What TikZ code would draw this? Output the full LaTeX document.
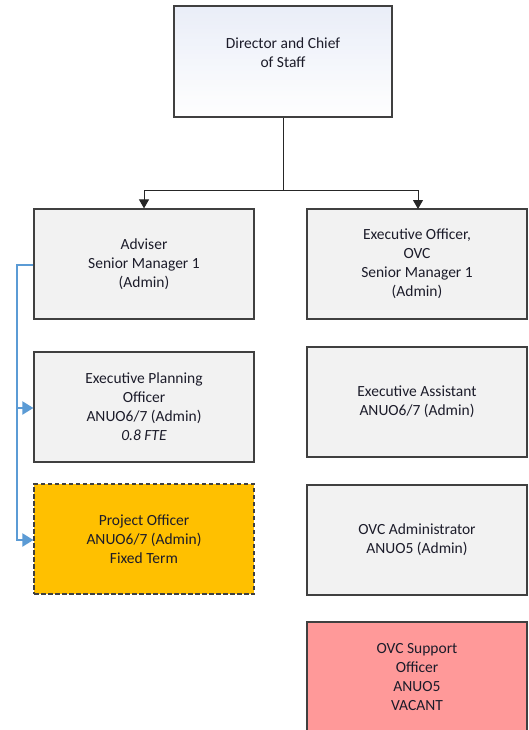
\documentclass[tikz,border=0pt]{standalone}
\usepackage{fontspec}
\setmainfont{Carlito}
\usetikzlibrary{arrows.meta,shadings}
\definecolor{boxgrey}{HTML}{F2F2F2}
\definecolor{edgegrey}{HTML}{404040}
\definecolor{projfill}{HTML}{FFC000}
\definecolor{vacantfill}{HTML}{FF9999}
\definecolor{linkblue}{HTML}{5B9BD5}
\definecolor{dirtop}{HTML}{E4E9F6}
\definecolor{inktext}{HTML}{1C1C2A}
\tikzset{
  x=1pt, y=-1pt,
  labeltext/.style={align=center, text=inktext, font=\fontsize{15.5}{19}\selectfont},
  role/.style={labeltext, draw=edgegrey, line width=1.2pt, fill=boxgrey, minimum width=220pt,
    minimum height=110pt, inner sep=0pt},
  reportline/.style={draw=black!85, line width=1pt},
  dotline/.style={draw=linkblue, line width=2pt},
  bluetip/.style={-{Triangle[length=11pt,width=13pt]}},
}
\begin{document}
\begin{tikzpicture}
\useasboundingbox (0,0) rectangle (529,730);
\clip (0,0) rectangle (529,730);
\fill[white] (0,0) rectangle (529,730);

% top box with soft gradient
\shade[left color=dirtop, right color=white, shading angle=0]
  (174,6) rectangle (392,117);
\shade[top color=dirtop!60, bottom color=white, opacity=0.5] (174,6) rectangle (392,117);
\node[role, fill=none, minimum width=218pt, minimum height=111pt] (dir) at (283,61.5) {};
\node[labeltext] (dirtext) at (283,53) {Director and Chief\\of Staff};

% left column
\node[role] (adv) at (144,264) {Adviser\\Senior Manager 1\\(Admin)};
\node[role] (epo) at (144,407) {Executive Planning\\Officer\\ANUO6/7 (Admin)\\\textit{0.8 FTE}};
\node[role, fill=projfill, dashed, dash pattern=on 4.5pt off 2.5pt] (proj) at (144,539)
  {Project Officer\\ANUO6/7 (Admin)\\Fixed Term};

% right column
\node[role] (eo) at (417,264) {Executive Officer,\\OVC\\Senior Manager 1\\(Admin)};
\node[role] (ea) at (417,402) {Executive Assistant\\ANUO6/7 (Admin)};
\node[role] (adm) at (417,540) {OVC Administrator\\ANUO5 (Admin)};
\node[role, fill=vacantfill] (sup) at (417,677) {OVC Support\\Officer\\ANUO5\\VACANT};

% reporting lines
\coordinate (split) at (283,190);
\draw[reportline] (dir.south) -- (split);
\draw[reportline, -{Triangle[length=9pt,width=10pt]}] (split) -| (adv.north);
\draw[reportline, -{Triangle[length=9pt,width=10pt]}] (split) -| (418,209);

% dotted-line reporting from the adviser
\coordinate (bend) at (17,265);
\draw[dotline] (adv.west |- bend) -- (bend) -- (17,540) -- ++(6,0);
\draw[dotline, bluetip] (17,408) -- (epo.west |- 0,408);
\draw[dotline, bluetip] (17,540) -- (proj.west |- 0,540);
\end{tikzpicture}
\end{document}
